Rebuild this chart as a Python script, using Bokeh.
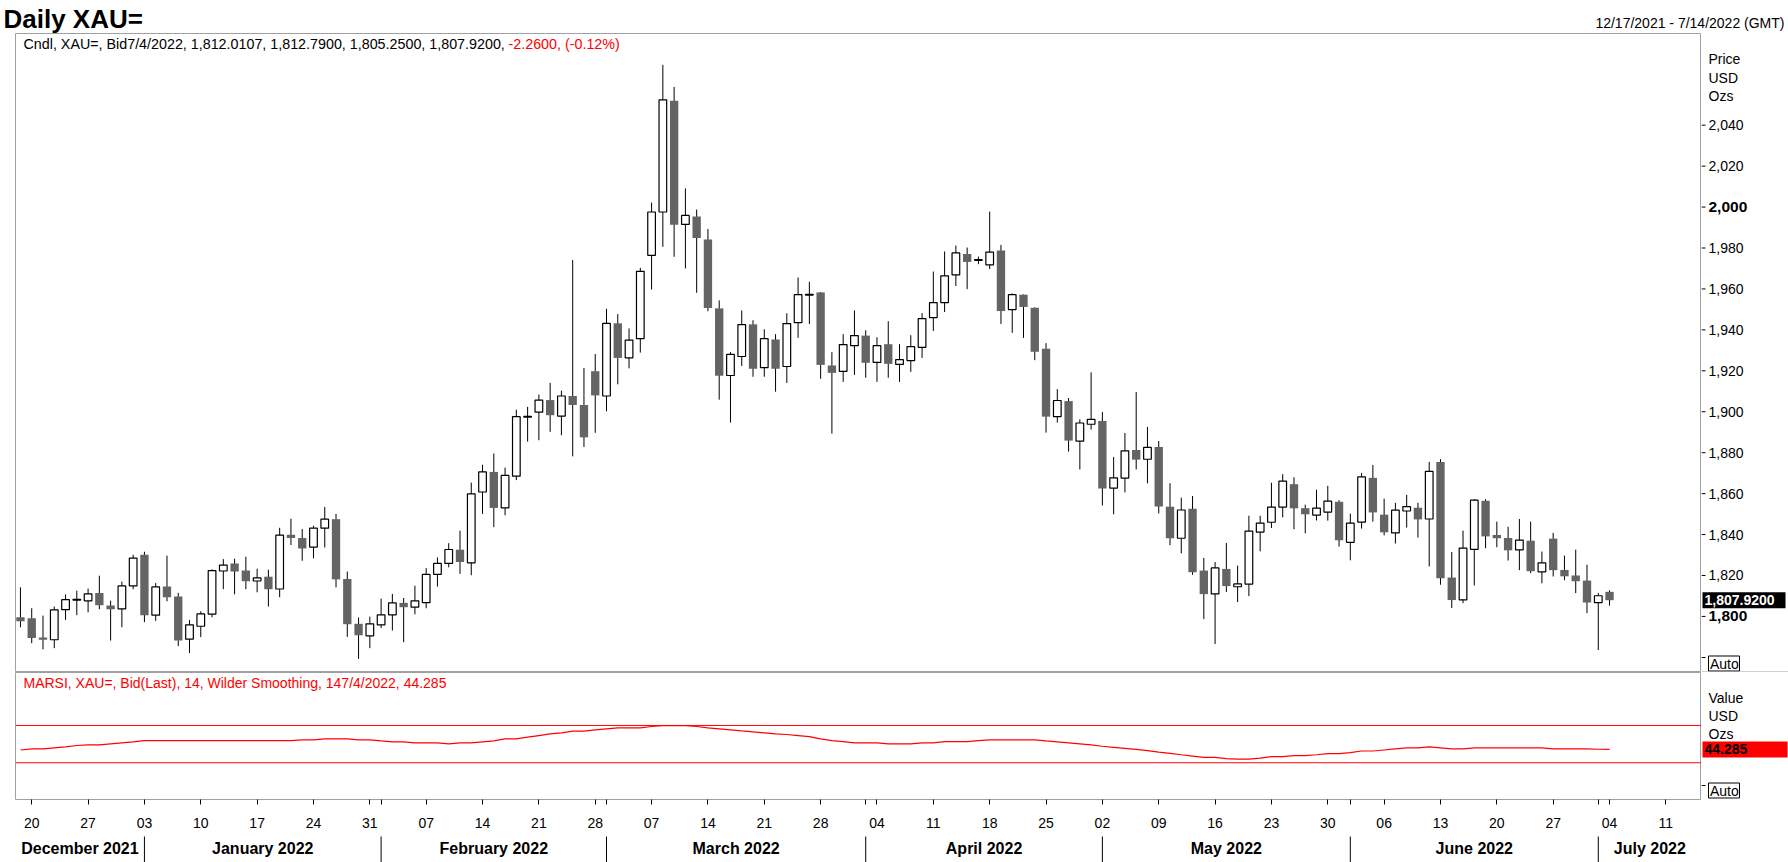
import pandas as pd
from bokeh.plotting import figure
from bokeh.models import Range1d, FixedTicker, Label, Span
from bokeh.layouts import column, row
from bokeh.embed import file_html
from bokeh.resources import INLINE
from bokeh.core.properties import value

# ---------------- data ----------------
dates = pd.bdate_range("2021-12-17", "2022-07-04")

opens = [1799.6, 1799.1, 1789.7, 1788.6, 1803.3, 1808.0, 1807.6, 1811.5, 1805.3, 1803.7,
         1814.9, 1830.1, 1800.6, 1814.6, 1809.7, 1788.9, 1795.2, 1801.1, 1822.2, 1825.8,
         1822.4, 1817.3, 1819.4, 1813.4, 1839.9, 1838.3, 1833.9, 1843.1, 1847.5, 1818.3,
         1796.4, 1790.5, 1795.9, 1800.8, 1806.6, 1804.5, 1806.7, 1820.5, 1825.9, 1832.6,
         1826.2, 1860.8, 1870.6, 1853.0, 1868.5, 1897.4, 1899.8, 1905.7, 1897.9, 1907.7,
         1903.3, 1919.8, 1907.7, 1943.2, 1926.3, 1935.7, 1976.4, 1997.6, 2051.9, 1991.5,
         1995.4, 1984.1, 1950.5, 1917.7, 1927.0, 1942.7, 1921.6, 1935.3, 1922.1, 1943.5,
         1957.0, 1958.3, 1922.6, 1919.7, 1932.3, 1937.2, 1924.1, 1933.0, 1923.1, 1925.0,
         1931.4, 1946.0, 1953.3, 1966.9, 1977.1, 1974.0, 1971.8, 1978.8, 1949.9, 1957.2,
         1950.8, 1930.8, 1897.6, 1905.2, 1885.6, 1893.9, 1895.5, 1862.7, 1867.6, 1881.3,
         1876.8, 1882.8, 1853.6, 1838.2, 1852.6, 1822.4, 1811.0, 1823.2, 1814.5, 1815.8,
         1841.2, 1846.0, 1853.4, 1864.6, 1852.9, 1849.5, 1851.0, 1856.0, 1836.2, 1846.1,
         1867.7, 1849.7, 1840.8, 1851.5, 1853.1, 1847.6, 1875.5, 1819.0, 1808.1, 1832.8,
         1856.5, 1839.8, 1838.3, 1832.5, 1837.0, 1821.8, 1838.0, 1822.7, 1820.0, 1817.5,
         1806.7, 1812.0107]

highs = [1814.2, 1804.0, 1800.4, 1804.8, 1810.7, 1812.6, 1813.6, 1819.9, 1807.7, 1817.0,
         1830.1, 1831.6, 1816.3, 1829.7, 1811.5, 1798.3, 1802.5, 1823.0, 1828.0, 1828.2,
         1829.2, 1823.3, 1822.8, 1843.3, 1847.7, 1842.7, 1844.3, 1853.5, 1850.1, 1821.9,
         1799.5, 1799.9, 1808.7, 1811.0, 1809.0, 1815.0, 1823.6, 1828.8, 1835.8, 1841.9,
         1865.4, 1874.1, 1879.6, 1872.7, 1901.0, 1902.4, 1908.4, 1914.1, 1910.3, 1974.1,
         1921.4, 1928.2, 1950.3, 1947.7, 1940.7, 1970.3, 2002.2, 2069.5, 2058.7, 2009.1,
         1998.8, 1989.3, 1954.4, 1929.1, 1949.5, 1944.7, 1940.3, 1937.9, 1948.1, 1965.6,
         1963.5, 1958.5, 1929.1, 1937.9, 1949.5, 1939.8, 1936.4, 1944.2, 1933.0, 1937.4,
         1948.2, 1968.5, 1978.3, 1981.2, 1980.2, 1975.8, 1997.8, 1981.5, 1957.8, 1957.3,
         1951.0, 1933.5, 1911.1, 1906.7, 1896.3, 1919.3, 1899.9, 1877.9, 1889.6, 1909.6,
         1892.6, 1885.7, 1865.1, 1858.0, 1858.8, 1828.6, 1826.6, 1835.9, 1824.8, 1849.2,
         1849.2, 1865.3, 1869.5, 1868.0, 1854.6, 1861.9, 1863.8, 1856.8, 1850.2, 1870.1,
         1874.0, 1857.5, 1855.5, 1859.4, 1855.5, 1875.5, 1876.8, 1831.5, 1841.9, 1857.3,
         1857.3, 1846.3, 1843.8, 1847.6, 1846.3, 1831.7, 1840.8, 1829.7, 1832.6, 1825.3,
         1811.5, 1812.79]

lows = [1794.7, 1786.9, 1783.9, 1784.5, 1798.3, 1800.6, 1802.0, 1803.5, 1788.2, 1794.7,
        1813.3, 1797.2, 1797.8, 1807.4, 1785.5, 1782.1, 1789.9, 1799.6, 1813.3, 1810.8,
        1813.3, 1811.8, 1804.8, 1809.4, 1834.9, 1827.2, 1828.4, 1833.7, 1814.2, 1790.0,
        1779.2, 1784.5, 1794.3, 1793.1, 1787.4, 1801.0, 1804.0, 1814.6, 1824.0, 1820.8,
        1820.1, 1850.1, 1843.6, 1849.4, 1866.6, 1885.4, 1886.1, 1890.2, 1888.5, 1878.2,
        1882.8, 1889.7, 1900.2, 1913.4, 1921.2, 1928.9, 1959.7, 1980.6, 1975.7, 1970.0,
        1958.1, 1949.1, 1905.9, 1894.7, 1922.4, 1917.1, 1917.1, 1909.8, 1914.1, 1936.1,
        1942.9, 1916.1, 1889.3, 1914.6, 1918.0, 1916.6, 1914.6, 1916.6, 1914.6, 1919.5,
        1926.3, 1939.5, 1948.7, 1961.4, 1959.9, 1972.1, 1969.7, 1942.9, 1938.5, 1936.1,
        1925.2, 1889.8, 1894.7, 1880.5, 1871.8, 1891.3, 1854.2, 1849.9, 1860.6, 1871.8,
        1865.0, 1850.3, 1834.8, 1830.8, 1820.3, 1798.7, 1786.5, 1811.9, 1807.0, 1809.9,
        1831.8, 1843.2, 1848.4, 1842.6, 1840.6, 1846.9, 1846.8, 1834.1, 1827.4, 1842.9,
        1846.3, 1839.6, 1835.6, 1843.4, 1838.5, 1824.4, 1815.5, 1804.1, 1806.5, 1815.1,
        1833.3, 1833.8, 1827.3, 1822.6, 1821.1, 1816.2, 1819.5, 1817.7, 1811.4, 1801.6,
        1783.6, 1805.25]

closes = [1797.7, 1789.4, 1788.6, 1803.2, 1808.2, 1808.3, 1811.0, 1805.5, 1803.5, 1814.9,
          1828.5, 1800.6, 1814.4, 1809.4, 1788.2, 1795.9, 1801.2, 1822.4, 1825.1, 1822.0,
          1817.2, 1818.8, 1813.3, 1839.7, 1838.3, 1833.2, 1843.1, 1847.5, 1818.1, 1796.2,
          1790.8, 1796.4, 1800.8, 1806.6, 1804.5, 1807.6, 1820.5, 1825.9, 1832.7, 1826.6,
          1859.9, 1870.6, 1853.0, 1868.9, 1897.6, 1897.8, 1905.7, 1898.3, 1907.7, 1903.3,
          1887.5, 1908.0, 1943.2, 1926.3, 1935.0, 1968.6, 1997.6, 2052.4, 1991.4, 1995.9,
          1984.9, 1950.7, 1917.6, 1928.0, 1942.6, 1921.0, 1935.7, 1921.0, 1943.1, 1957.2,
          1957.4, 1922.9, 1919.0, 1932.8, 1937.2, 1923.9, 1932.3, 1923.4, 1925.5, 1931.8,
          1945.5, 1953.3, 1966.4, 1977.6, 1973.2, 1974.3, 1978.0, 1949.2, 1957.2, 1951.2,
          1929.3, 1897.6, 1905.5, 1885.9, 1894.5, 1896.3, 1862.5, 1867.7, 1880.9, 1876.6,
          1882.6, 1853.7, 1838.2, 1852.0, 1821.6, 1810.9, 1823.7, 1814.8, 1815.9, 1841.7,
          1845.6, 1853.4, 1866.1, 1852.8, 1849.9, 1852.9, 1856.3, 1837.2, 1845.6, 1868.2,
          1850.8, 1841.1, 1851.9, 1853.6, 1847.4, 1870.9, 1818.7, 1808.0, 1833.4, 1856.8,
          1839.1, 1838.2, 1832.3, 1837.3, 1822.1, 1826.2, 1822.6, 1819.6, 1817.2, 1806.8,
          1810.1, 1807.92]

rsi = [43.7, 44.8, 44.8, 45.9, 47.0, 48.5, 49.1, 49.1, 50.2, 51.3,
       52.4, 53.8, 53.8, 53.8, 53.8, 53.8, 53.8, 53.8, 53.8, 53.8,
       53.8, 53.8, 53.8, 53.8, 53.8, 54.5, 54.5, 55.6, 55.6, 55.6,
       54.5, 54.5, 53.4, 52.4, 52.4, 51.3, 51.3, 51.3, 50.2, 51.3,
       51.3, 52.4, 53.4, 55.6, 55.6, 57.4, 59.2, 61.0, 62.1, 63.9,
       63.9, 65.3, 66.4, 67.5, 67.5, 67.5, 68.9, 69.9, 69.9, 69.9,
       68.9, 67.5, 66.4, 65.3, 64.2, 63.2, 62.1, 61.0, 60.3, 59.2,
       58.1, 55.6, 53.8, 52.7, 51.3, 51.3, 51.3, 50.2, 50.2, 50.2,
       51.3, 51.3, 52.7, 52.7, 52.7, 53.8, 54.5, 54.5, 54.5, 54.5,
       54.5, 53.4, 52.4, 51.3, 50.2, 49.1, 47.7, 46.6, 45.5, 44.4,
       43.0, 41.5, 40.1, 38.6, 37.2, 35.8, 35.8, 34.5, 34.0, 34.0,
       35.0, 36.5, 36.5, 37.6, 37.6, 38.6, 39.7, 39.7, 40.8, 42.6,
       42.6, 43.7, 44.8, 45.9, 45.9, 47.0, 45.9, 44.8, 44.8, 45.9,
       45.9, 45.9, 45.9, 45.9, 45.9, 45.9, 44.8, 44.8, 44.8, 44.8,
       44.5, 44.285]

price_ticks = [1800, 1820, 1840, 1860, 1880, 1900, 1920, 1940, 1960, 1980, 2000, 2020, 2040]
bold_ticks = [1800, 2000]
rsi_levels = [70, 30]
last_price = 1807.92
last_rsi = 44.285
title_text = "Daily XAU="
range_text = "12/17/2021 - 7/14/2022 (GMT)"
header_black = "Cndl, XAU=, Bid7/4/2022, 1,812.0107, 1,812.7900, 1,805.2500, 1,807.9200, "
header_red = "-2.2600, (-0.12%)"
rsi_header = "MARSI, XAU=, Bid(Last),  14, Wilder Smoothing, 147/4/2022, 44.285"
price_units = ["Price", "USD", "Ozs"]
rsi_units = ["Value", "USD", "Ozs"]

# ---------------- layout geometry (page pixels) ----------------
FONT = "Liberation Sans"
F = value(FONT)
N = len(dates)
idx = list(range(N))
PAGE_W = 1788
XR0, XR1 = -0.44, 149.16
FL, FW = 15, 1686            # frame left / width
RW = PAGE_W - FL - FW        # right strip width (87)
PPU = FW / (XR1 - XR0)
HEAD_H = 33
F1T, F1H = 33, 639
F2T, F2H = 672, 127
AX_H = 36
BAND_H = 862 - HEAD_H - F1H - F2H - AX_H

Y1R = (1772.6, 2084.8)
Y2R = (-9.4, 126.8)
GRAY = "#a0a0a0"


def X(px):
    return XR0 + (px - FL) / PPU


def Y1(py):
    return Y1R[1] - (py - F1T) * (Y1R[1] - Y1R[0]) / F1H


def Y2(py):
    return Y2R[1] - (py - F2T) * (Y2R[1] - Y2R[0]) / F2H


xr = Range1d(XR0, XR1)
yr1 = Range1d(*Y1R)
yr2 = Range1d(*Y2R)


def fig(**kw):
    base = dict(title=None, toolbar_location=None, output_backend="svg",
                x_axis_location=None, y_axis_location=None,
                min_border_left=0, min_border_right=0, min_border_top=0, min_border_bottom=0)
    base.update(kw)
    f = figure(**base)
    f.grid.visible = False
    f.background_fill_color = "white"
    f.border_fill_color = "white"
    f.outline_line_color = None
    return f


def txt(f, x, y, t, size="14px", color="black", fstyle="normal", align="left", baseline="middle"):
    f.text(x=x, y=y, text=t, text_font=F, text_font_size=size, text_color=color,
           text_font_style=fstyle, text_align=align, text_baseline=baseline)


# ---------------- header strip ----------------
p0 = fig(frame_width=PAGE_W, frame_height=HEAD_H, x_range=Range1d(0, PAGE_W),
         y_range=Range1d(0, HEAD_H))
try:
    p0.frame_align = False
except Exception:
    pass
txt(p0, [3], [HEAD_H - 18], [title_text], size="26px", fstyle="bold")
txt(p0, [PAGE_W - 4], [HEAD_H - 22], [range_text], align="right")

# ---------------- main price panel ----------------
p1 = fig(frame_width=FW, frame_height=F1H, x_range=xr, y_range=yr1, min_border_left=FL)
p1.outline_line_color = GRAY

up = [i for i in idx if closes[i] >= opens[i]]
dn = [i for i in idx if closes[i] < opens[i]]
p1.segment(x0=idx, y0=lows, x1=idx, y1=highs, line_color="black", line_width=1)
p1.vbar(x=up, width=0.68, bottom=[opens[i] for i in up], top=[closes[i] for i in up],
        fill_color="white", line_color="black", line_width=1.2)
p1.vbar(x=dn, width=0.74, top=[opens[i] for i in dn], bottom=[closes[i] for i in dn],
        fill_color="#646464", line_color=None)

p1.add_layout(Label(x=X(23), y=Y1(43), text=header_black, text_font=FONT,
                    text_font_size="14.3px", text_color="black", text_baseline="middle"))
p1.add_layout(Label(x=X(508), y=Y1(43), text=header_red, text_font=FONT,
                    text_font_size="14.3px", text_color="red", text_baseline="middle"))

# right strip of the price panel: price scale
p1r = fig(frame_width=RW, frame_height=F1H, x_range=Range1d(0, RW), y_range=yr1)
p1r.segment(x0=[0] * len(price_ticks), y0=price_ticks, x1=[4] * len(price_ticks), y1=price_ticks,
            line_color="black", line_width=1)
norm = [t for t in price_ticks if t not in bold_ticks]
txt(p1r, [7] * len(norm), norm, [f"{t:,}" for t in norm])
txt(p1r, [7] * len(bold_ticks), bold_ticks, [f"{t:,}" for t in bold_ticks], size="15.5px", fstyle="bold")
txt(p1r, [7] * 3, [Y1(58), Y1(77), Y1(95)], price_units)
p1r.rect(x=[1 + 83 / 2], y=[last_price], width=83, height=16, height_units="screen",
         fill_color="black", line_color=None)
txt(p1r, [3], [last_price], [f"{last_price:,.4f}"], color="white", fstyle="bold")
p1r.segment(x0=[0], y0=[Y1(657)], x1=[4], y1=[Y1(657)], line_color="black")
p1r.rect(x=[7 + 31 / 2], y=[Y1(663)], width=31, height=15, height_units="screen",
         fill_color="white", line_color="black", line_width=1)
txt(p1r, [8.5], [Y1(663)], ["Auto"])
p1r.segment(x0=[0], y0=[Y1(671.5)], x1=[RW], y1=[Y1(671.5)], line_color=GRAY, line_width=1)

# ---------------- RSI panel ----------------
p2 = fig(frame_width=FW, frame_height=F2H, x_range=xr, y_range=yr2, min_border_left=FL,
         min_border_bottom=AX_H, x_axis_location="below")
p2.outline_line_color = GRAY
for lv in rsi_levels:
    p2.add_layout(Span(location=lv, dimension="width", line_color="red", line_width=1))
p2.line(idx, rsi, line_color="red", line_width=1.2)
p2.add_layout(Label(x=X(23), y=Y2(682), text=rsi_header, text_font=FONT,
                    text_font_size="14px", text_color="red", text_baseline="middle"))

# date axis: ticks at Mondays and at month starts
axis_dates = pd.bdate_range("2021-12-17", "2022-07-15")
mondays = [i for i, d in enumerate(axis_dates) if d.weekday() == 0 and i <= XR1]
month_first = [i for i in range(1, N) if dates[i].month != dates[i - 1].month]
ticks = sorted(set(mondays) | set(month_first))
xa = p2.xaxis[0]
xa.ticker = FixedTicker(ticks=ticks)
xa.major_label_overrides = {i: (axis_dates[i].strftime("%d") if i in mondays else "") for i in ticks}
xa.axis_line_color = None
xa.major_tick_out = 5
xa.major_tick_in = 0
xa.minor_tick_line_color = None
xa.major_tick_line_color = "black"
xa.major_label_standoff = 13
xa.major_label_text_font = FONT
xa.major_label_text_font_size = "14px"
xa.major_label_text_color = "black"

p2r = fig(frame_width=RW, frame_height=F2H, x_range=Range1d(0, RW), y_range=yr2,
          min_border_bottom=AX_H)
txt(p2r, [7] * 3, [Y2(697), Y2(715), Y2(733)], rsi_units)
p2r.rect(x=[1 + 85 / 2], y=[last_rsi], width=85, height=16, height_units="screen",
         fill_color="red", line_color=None)
txt(p2r, [3], [last_rsi], [f"{last_rsi:.3f}"], fstyle="bold")
p2r.segment(x0=[0], y0=[Y2(785)], x1=[4], y1=[Y2(785)], line_color="black")
p2r.rect(x=[7 + 31 / 2], y=[Y2(790)], width=31, height=15, height_units="screen",
         fill_color="white", line_color="black", line_width=1)
txt(p2r, [8.5], [Y2(790)], ["Auto"])

# ---------------- month band ----------------
p3 = fig(frame_width=FW, frame_height=BAND_H, x_range=xr, y_range=Range1d(0, BAND_H),
         min_border_left=FL, min_border_right=RW)
bounds = [XR0] + month_first + [XR1]
month_names = [dates[0].strftime("%B %Y")] + [dates[i].strftime("%B %Y") for i in month_first]
month_centers = [(bounds[k] + bounds[k + 1]) / 2 for k in range(len(month_names))]
p3.segment(x0=month_first, y0=[0] * len(month_first), x1=month_first,
           y1=[BAND_H - 1] * len(month_first), line_color="black", line_width=1)
txt(p3, month_centers, [862 - 848] * len(month_centers), month_names, size="16px", fstyle="bold",
    align="center")

layout = column(p0, row(p1, p1r, spacing=0), row(p2, p2r, spacing=0), p3, spacing=0)
open("out.html", "w").write(file_html(layout, INLINE))
